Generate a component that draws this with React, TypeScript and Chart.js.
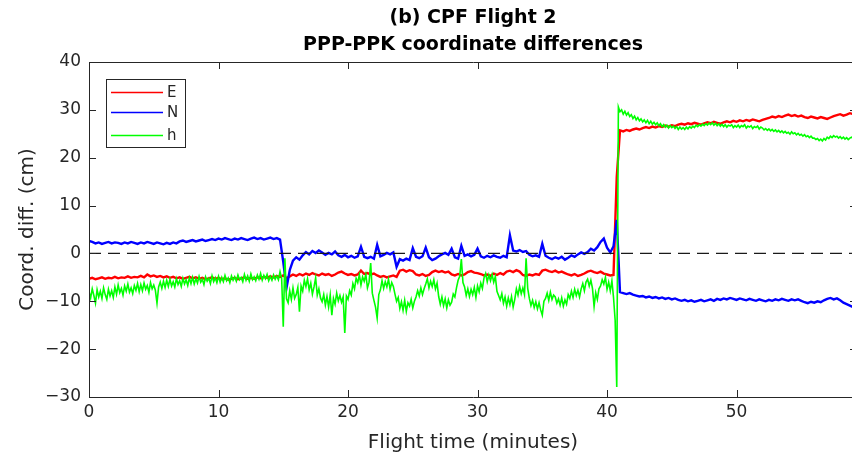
import { useEffect, useRef } from "react";
import { Chart, registerables } from "chart.js";

Chart.register(...registerables);

// E and N are logged every quarter minute, h every eighth of a minute.
const EN_STEP_MIN = 0.25;
const H_STEP_MIN = 0.125;
const X_MIN = 0;
const X_MAX = 59.3;
const Y_MIN = -30;
const Y_MAX = 40;
const X_TICKS = [0, 10, 20, 30, 40, 50];
const Y_TICKS = [-30, -20, -10, 0, 10, 20, 30, 40];

const TITLE_LINES = ["(b) CPF Flight 2", "PPP-PPK coordinate differences"];
const X_LABEL = "Flight time (minutes)";
const Y_LABEL = "Coord. diff. (cm)";
const SERIES_NAMES = ["E", "N", "h"];
const SERIES_COLORS = ["#ff0000", "#0000ff", "#00ff00"];

// East component (cm)
const E_CM = [
  -5.3, -5.1, -5.4, -5.2, -5.0, -5.3, -5.1, -5.2, -4.9, -5.2, -5.0, -5.1, -4.8, -5.1, -4.9, -5.0, -4.7, -5.0, -4.4, -4.8,
  -4.6, -4.9, -4.7, -5.0, -4.8, -5.1, -4.9, -5.2, -5.0, -5.3, -5.1, -4.9, -5.2, -5.0, -5.3, -5.1, -5.4, -5.2, -5.0, -5.3,
  -5.1, -5.4, -5.2, -5.5, -5.3, -5.1, -5.4, -5.2, -5.0, -5.3, -5.1, -5.3, -5.0, -5.2, -4.9, -5.1, -4.8, -5.0, -4.7, -4.9,
  -4.6, -5.2, -4.8, -4.4, -4.7, -4.3, -4.6, -4.2, -4.5, -4.1, -4.4, -4.6, -4.2, -4.5, -4.3, -4.7, -4.4, -4.0, -3.8, -4.2,
  -4.5, -4.3, -4.6, -4.4, -3.6, -4.3, -4.1, -4.4, -4.2, -4.6, -4.9, -4.7, -5.0, -4.8, -4.6, -4.9, -3.6, -3.4, -3.8, -3.5,
  -3.7, -4.4, -4.6, -4.3, -4.7, -4.5, -3.9, -3.6, -3.9, -3.7, -4.0, -3.8, -4.4, -4.6, -4.3, -4.6, -4.4, -3.9, -3.7, -4.0,
  -4.1, -4.3, -4.6, -4.4, -4.7, -4.2, -4.5, -4.1, -4.4, -3.8, -3.6, -3.9, -3.5, -3.8, -4.5, -4.7, -4.4, -4.6, -4.3, -4.5,
  -3.6, -3.4, -3.7, -3.9, -3.6, -4.0, -3.8, -4.1, -4.4, -4.6, -4.3, -4.7, -4.5, -4.2, -3.8, -3.6, -3.9, -4.1, -3.8, -4.2,
  -4.4, -4.6, -4.5, 16.0, 25.7, 25.5, 25.8, 25.6, 25.9, 26.1, 25.9, 26.2, 26.4, 26.2, 26.5, 26.3, 26.6, 26.4, 26.7, 26.5,
  26.8, 26.6, 26.9, 27.1, 26.9, 27.2, 27.0, 27.3, 27.1, 26.9, 27.2, 27.4, 27.2, 27.5, 27.3, 27.1, 27.4, 27.6, 27.4, 27.7,
  27.5, 27.8, 27.6, 27.9, 27.7, 28.0, 27.8, 27.6, 27.9, 28.1, 28.3, 28.6, 28.4, 28.7, 28.5, 28.8, 29.0, 28.7, 28.9, 28.6,
  28.8, 28.5, 28.3, 28.6, 28.4, 28.2, 28.5, 28.3, 28.1, 28.4, 28.7, 28.9, 29.1, 28.8, 29.0, 29.3, 29.1,
];

// North component (cm)
const N_CM = [
  2.6, 2.4, 2.1, 2.3, 2.0, 2.2, 2.4, 2.1, 2.3, 2.2, 2.0, 2.3, 2.1, 2.4, 2.2, 2.0, 2.3, 2.1, 2.4, 2.2,
  2.0, 2.3, 2.1, 1.9, 2.2, 2.0, 2.3, 2.1, 2.5, 2.7, 2.4, 2.6, 2.8, 2.5, 2.7, 2.9, 2.6, 2.8, 3.0, 2.8,
  3.1, 2.9, 3.2, 3.0, 2.8, 3.1, 2.9, 3.2, 3.0, 2.8, 3.1, 3.3, 3.0, 3.2, 2.9, 3.1, 3.3, 3.0, 3.2, 2.9,
  -1.8, -7.2, -3.5, -1.5, -0.8, -1.3, -0.4, 0.3, -0.2, 0.5, 0.1, 0.6, 0.2, -0.3, 0.1, -0.2, 0.4, -0.4, -0.7, -0.3,
  -0.8, -0.5, -0.9, -0.6, 1.4, -0.7, -1.0, -0.7, -1.1, 1.8, -0.6, -0.3, 0.1, -0.2, 0.2, -2.8, -1.2, -1.5, -1.1, -1.4,
  1.1, -0.7, -1.0, -0.6, 1.2, -0.8, -1.4, -1.1, -0.6, -0.2, 0.1, -0.3, 1.0, -0.8, -1.1, 1.6, -0.5, -0.2, -0.6, -0.3,
  1.0, -0.6, -0.9, -0.5, -0.8, -0.4, -0.7, -0.9, -0.5, -0.8, 3.8, 0.6, 0.4, 0.7, 0.3, 0.5, -0.3, -0.6, -0.4, -0.7,
  2.0, -0.5, -0.9, -1.2, -0.8, -1.1, -0.7, -1.3, -0.9, -0.4, -0.7, -0.2, 0.2, -0.1, 0.3, 1.0, 0.6, 1.3, 2.4, 3.1,
  1.2, 0.2, 1.5, 7.0, -8.1, -8.3, -8.5, -8.3, -8.6, -8.8, -9.0, -8.9, -9.2, -9.0, -9.3, -9.1, -9.4, -9.2, -9.5, -9.3,
  -9.6, -9.4, -9.7, -9.9, -9.7, -10.0, -9.8, -10.1, -9.9, -9.7, -10.0, -9.8, -9.6, -9.9, -9.5, -9.7, -9.4, -9.6, -9.3, -9.5,
  -9.7, -9.4, -9.6, -9.8, -9.5, -9.7, -9.9, -9.6, -9.8, -10.0, -9.7, -9.9, -9.6, -9.8, -9.5, -9.7, -9.9, -9.6, -9.8, -9.6,
  -9.9, -10.2, -10.4, -10.1, -10.3, -10.0, -10.2, -9.8, -9.5, -9.3, -9.6, -9.4, -9.8, -10.3, -10.6, -10.9, -11.2,
];

// Height component (cm), two minutes per row
const H_CM = [
  -8.0, -9.3, -7.4, -8.8, -10.4, -7.6, -9.1, -7.9, -9.4, -7.2, -8.6, -9.6, -7.5, -8.9, -7.8, -9.2,
  -7.0, -8.5, -6.6, -8.2, -7.3, -8.7, -6.8, -7.9, -6.4, -8.1, -7.2, -8.4, -6.7, -7.7, -6.3, -8.0,
  -6.5, -7.8, -6.2, -7.5, -6.7, -8.1, -6.1, -7.4, -6.6, -7.7, -10.4, -7.0, -6.0, -7.3, -5.8, -7.1,
  -5.6, -6.9, -5.4, -6.8, -5.9, -7.0, -5.3, -6.5, -5.7, -6.9, -5.2, -6.4, -5.5, -6.7, -5.1, -6.3,
  -5.0, -6.4, -5.3, -6.2, -4.8, -6.0, -5.4, -6.5, -4.9, -5.8, -5.2, -6.3, -4.7, -5.9, -5.1, -6.1,
  -4.8, -6.0, -5.0, -5.9, -4.6, -5.7, -5.1, -6.1, -4.7, -5.6, -4.9, -5.8, -4.5, -5.5, -5.0, -5.9,
  -4.4, -5.6, -4.7, -5.8, -4.3, -5.5, -4.9, -5.7, -4.5, -5.4, -4.2, -5.6, -4.6, -5.3, -4.4, -5.7,
  -4.8, -5.6, -4.5, -5.4, -4.7, -5.5, -3.8, -5.2, -15.3, -1.0, -9.5, -10.3, -7.8, -9.6, -7.2, -9.4,
  -8.6, -7.1, -12.2, -6.8, -7.9, -5.6, -6.9, -5.3, -7.6, -6.2, -8.5, -7.0, -5.1, -8.7, -7.4, -9.3,
  -10.1, -8.6, -10.8, -9.0, -11.2, -8.7, -12.9, -9.4, -10.6, -8.3, -9.9, -8.8, -10.2, -9.1, -16.6, -8.9,
  -9.6, -7.8, -8.7, -6.3, -7.4, -5.2, -6.1, -4.5, -6.6, -4.9, -5.8, -4.4, -7.2, -6.0, -2.0, -8.3,
  -9.8, -11.2, -13.5, -8.6, -7.6, -5.7, -7.3, -5.9, -7.0, -5.4, -7.5, -6.1, -6.9, -8.5, -10.0, -9.2,
  -11.5, -10.1, -11.9, -9.8, -12.1, -10.3, -11.0, -9.6, -11.4, -10.0, -9.1, -7.8, -8.9, -7.2, -8.6, -7.4,
  -6.4, -5.3, -7.2, -5.8, -6.9, -5.5, -7.4, -6.2, -9.0, -10.6, -9.1, -10.9, -9.5, -11.4, -9.7, -10.8,
  -10.2, -8.5, -9.1, -7.2, -5.6, -4.8, -1.2, -6.1, -7.0, -8.8, -7.4, -9.0, -7.5, -8.6, -7.1, -9.2,
  -6.8, -8.0, -6.2, -7.3, -5.1, -4.2, -5.9, -4.5, -5.7, -4.4, -6.0, -4.8, -7.9, -8.8, -9.7, -8.4,
  -10.4, -9.1, -11.0, -9.3, -10.7, -9.0, -11.2, -9.6, -7.4, -8.7, -6.9, -8.4, -7.2, -8.6, -1.0, -7.3,
  -9.4, -10.9, -9.8, -11.3, -10.1, -11.6, -10.3, -11.8, -12.9, -10.0, -9.4, -8.3, -9.8, -8.1, -9.6, -8.7,
  -9.1, -10.4, -9.5, -10.8, -9.3, -11.0, -9.7, -10.6, -8.6, -9.4, -7.9, -9.2, -7.5, -8.8, -7.7, -9.1,
  -7.4, -6.3, -7.8, -6.0, -5.4, -6.8, -5.6, -7.3, -11.1, -8.2, -9.6, -7.4, -6.8, -5.5, -6.4, -5.0,
  -7.5, -6.0, -7.8, -5.7, -9.2, -13.9, -27.9, 30.6, 29.6, 30.0, 29.1, 29.7, 28.9, 29.4, 28.6, 29.0,
  28.2, 28.7, 27.9, 28.4, 27.7, 28.1, 27.5, 27.9, 27.3, 27.8, 27.1, 27.6, 27.0, 27.4, 26.9, 27.3,
  26.7, 27.1, 26.5, 26.9, 26.4, 26.8, 26.2, 26.7, 26.3, 26.6, 26.1, 26.5, 25.9, 26.4, 26.0, 26.3,
  25.9, 26.4, 26.0, 26.5, 26.2, 26.6, 26.3, 26.8, 26.5, 26.9, 26.6, 27.0, 26.7, 27.1, 26.8, 27.2,
  26.9, 27.3, 26.8, 27.2, 26.7, 27.1, 26.6, 27.0, 26.5, 26.9, 26.4, 26.8, 26.6, 26.9, 26.3, 26.7,
  26.4, 26.8, 26.3, 26.7, 26.5, 26.9, 26.2, 26.6, 26.4, 26.7, 26.1, 26.5, 26.3, 26.6, 26.0, 26.4,
  26.2, 25.8, 26.1, 25.7, 26.0, 25.6, 25.9, 25.5, 25.8, 25.4, 25.7, 25.3, 25.6, 25.2, 25.5, 25.1,
  25.3, 24.9, 25.4, 25.0, 25.2, 24.8, 25.1, 24.7, 24.9, 24.5, 24.8, 24.4, 24.6, 24.2, 24.5, 24.1,
  24.1, 23.8, 24.0, 23.6, 23.9, 23.5, 24.0, 23.7, 24.3, 24.0, 24.5, 24.2, 24.6, 24.3, 24.5, 24.1,
  24.4, 24.0, 24.3, 23.9, 24.2, 23.8, 24.1, 24.3, 24.0,
];

const SERIES_WIDTHS = [2.4, 2.4, 1.6];
const TEXT_COLOR = "#262626";
const FONT = "'DejaVu Sans', 'Liberation Sans', sans-serif";
const TICK_LEN = 7;

const toPoints = (values: number[], step: number) =>
  values.map((y, i) => ({ x: i * step, y }));

// Axes box with inward ticks, titles and the inset legend.
const framePlugin = {
  id: "frame",
  afterDatasetsDraw(chart: any) {
    const { ctx, chartArea } = chart;
    const { left, right, top, bottom } = chartArea;
    const xs = chart.scales.x;
    const ys = chart.scales.y;
    ctx.save();
    ctx.strokeStyle = TEXT_COLOR;
    ctx.lineWidth = 1;
    ctx.beginPath();
    ctx.moveTo(left + 0.5, top + 0.5);
    ctx.lineTo(right + 0.5, top + 0.5);
    ctx.lineTo(right + 0.5, bottom + 0.5);
    ctx.lineTo(left + 0.5, bottom + 0.5);
    ctx.closePath();
    for (const v of X_TICKS) {
      const px = Math.round(xs.getPixelForValue(v)) + 0.5;
      ctx.moveTo(px, bottom);
      ctx.lineTo(px, bottom - TICK_LEN);
      ctx.moveTo(px, top);
      ctx.lineTo(px, top + TICK_LEN);
    }
    for (const v of Y_TICKS) {
      const py = Math.round(ys.getPixelForValue(v)) + 0.5;
      ctx.moveTo(left, py);
      ctx.lineTo(left + TICK_LEN, py);
      ctx.moveTo(right, py);
      ctx.lineTo(right - TICK_LEN, py);
    }
    ctx.stroke();
    ctx.restore();
  },
  afterDraw(chart: any) {
    const { ctx, chartArea } = chart;
    const { left, right, top, bottom } = chartArea;
    const cx = (left + right) / 2;
    ctx.save();
    ctx.fillStyle = "#000";
    ctx.textAlign = "center";
    ctx.textBaseline = "middle";
    ctx.font = `bold 19px ${FONT}`;
    ctx.fillText(TITLE_LINES[0], cx, 18);
    ctx.fillText(TITLE_LINES[1], cx, 45);

    ctx.fillStyle = TEXT_COLOR;
    ctx.font = `20px ${FONT}`;
    ctx.fillText(X_LABEL, cx, 443);
    ctx.save();
    ctx.translate(28, (top + bottom) / 2);
    ctx.rotate(-Math.PI / 2);
    ctx.fillText(Y_LABEL, 0, 0);
    ctx.restore();

    // legend
    const bx = 106.5, by = 79.5, bw = 79, bh = 68;
    ctx.fillStyle = "#fff";
    ctx.fillRect(bx, by, bw, bh);
    ctx.strokeStyle = TEXT_COLOR;
    ctx.lineWidth = 1;
    ctx.strokeRect(bx, by, bw, bh);
    const rows = [92.5, 112.5, 135.5];
    ctx.font = `15px ${FONT}`;
    ctx.textAlign = "left";
    SERIES_NAMES.forEach((name, k) => {
      ctx.strokeStyle = SERIES_COLORS[k];
      ctx.lineWidth = 1.5;
      ctx.beginPath();
      ctx.moveTo(111, rows[k]);
      ctx.lineTo(163, rows[k]);
      ctx.stroke();
      ctx.fillStyle = TEXT_COLOR;
      ctx.fillText(name, 167, rows[k] + 1);
    });
    ctx.restore();
  },
};

export default function App() {
  const canvasRef = useRef<HTMLCanvasElement>(null);

  useEffect(() => {
    const canvas = canvasRef.current;
    if (!canvas) return;
    const series = [
      { vals: E_CM, step: EN_STEP_MIN },
      { vals: N_CM, step: EN_STEP_MIN },
      { vals: H_CM, step: H_STEP_MIN },
    ];
    const datasets: any[] = series.map((s, k) => ({
      label: SERIES_NAMES[k],
      data: toPoints(s.vals, s.step),
      borderColor: SERIES_COLORS[k],
      borderWidth: SERIES_WIDTHS[k],
      borderJoinStyle: "miter",
      pointRadius: 0,
      tension: 0,
      order: 3 - k,
    }));
    datasets.push({
      label: "zero",
      data: [
        { x: X_MIN, y: 0 },
        { x: X_MAX, y: 0 },
      ],
      borderColor: "#1a1a1a",
      borderWidth: 1.3,
      borderDash: [12, 7],
      pointRadius: 0,
      order: 0,
    });

    const chart = new Chart(canvas, {
      type: "line",
      data: { datasets },
      options: {
        animation: false,
        responsive: false,
        devicePixelRatio: 1,
        layout: { padding: { top: 62, right: 9, left: 0, bottom: 0 } },
        plugins: {
          legend: { display: false },
          title: { display: false },
          tooltip: { enabled: false },
        },
        scales: {
          x: {
            type: "linear",
            min: X_MIN,
            max: X_MAX,
            grid: { display: false, drawTicks: false },
            border: { display: false },
            afterBuildTicks: (s: any) => {
              s.ticks = X_TICKS.map((value) => ({ value }));
            },
            afterFit: (s: any) => {
              s.height = 64;
            },
            ticks: {
              padding: 5,
              color: TEXT_COLOR,
              font: { family: FONT, size: 17 },
              maxRotation: 0,
            },
          },
          y: {
            type: "linear",
            min: Y_MIN,
            max: Y_MAX,
            grid: { display: false, drawTicks: false },
            border: { display: false },
            afterBuildTicks: (s: any) => {
              s.ticks = Y_TICKS.map((value) => ({ value }));
            },
            afterFit: (s: any) => {
              s.width = 89;
            },
            ticks: {
              padding: 8,
              color: TEXT_COLOR,
              font: { family: FONT, size: 17 },
              callback: (v: any) => String(v).replace("-", "\u2212"),
            },
          },
        },
      },
      plugins: [framePlugin],
    });
    return () => chart.destroy();
  }, []);

  return (
    <div
      style={{
        position: "fixed",
        left: 0,
        top: 0,
        width: 852,
        height: 461,
        overflow: "hidden",
        background: "#fff",
      }}
    >
      <canvas
        ref={canvasRef}
        width={866}
        height={461}
        style={{ display: "block", width: 866, height: 461 }}
      />
    </div>
  );
}
